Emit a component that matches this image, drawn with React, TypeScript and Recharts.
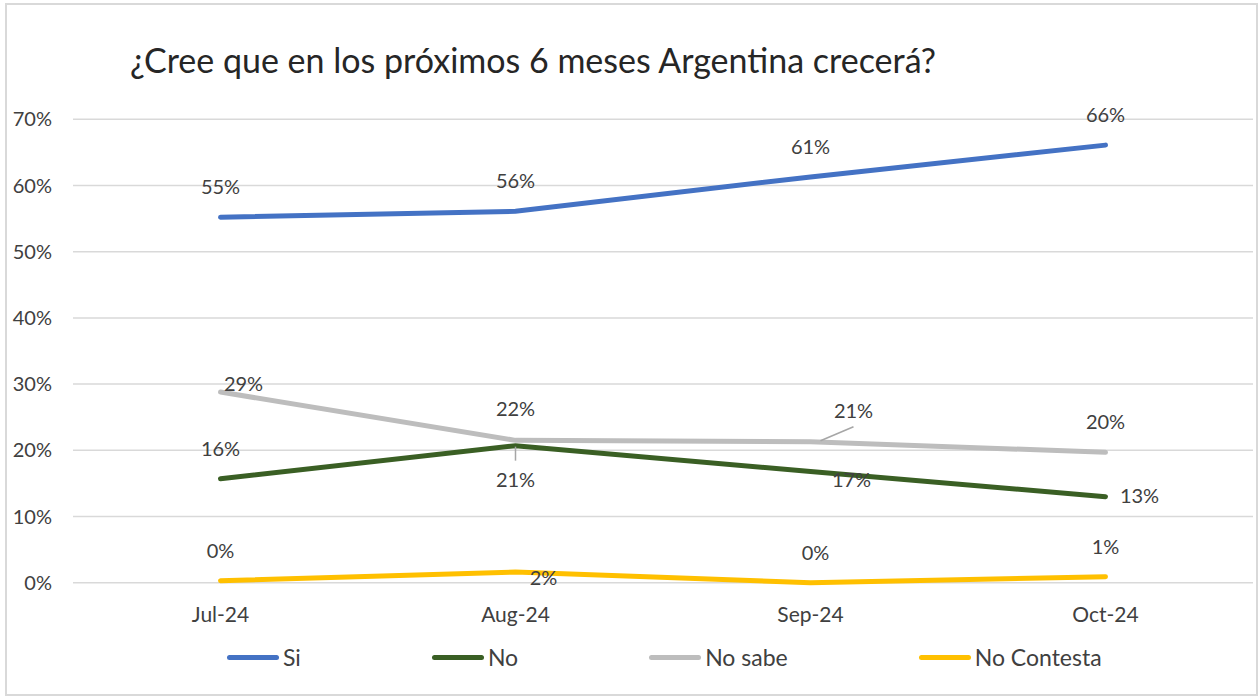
import React from 'react';
import { LineChart, Line, XAxis, YAxis, CartesianGrid, Legend, LabelList } from 'recharts';

// ---- data ----
const months = ['Jul-24', 'Aug-24', 'Sep-24', 'Oct-24'];
const si = [55.2, 56.1, 61.3, 66.1];
const no = [15.7, 20.7, 16.8, 13.0];
const noSabe = [28.8, 21.5, 21.3, 19.7];
const noContesta = [0.3, 1.6, 0.0, 0.9];
const yTicks = [0, 10, 20, 30, 40, 50, 60, 70];

const data = months.map((m, i) => ({
  month: m,
  si: si[i],
  no: no[i],
  noSabe: noSabe[i],
  noContesta: noContesta[i],
}));

// ---- styling / label placement (offsets from each point, px) ----
const FONT = 'Lato, "Open Sans", sans-serif';
const TEXT = '#404040';
const offsets: Record<string, [number, number][]> = {
  si: [[0, -31], [0, -31], [0, -31], [0, -31]],
  no: [[0, -31], [0, 33], [41, 8], [34, -2]],
  noSabe: [[23, -9], [0, -32], [43, -32], [0, -31]],
  noContesta: [[0, -31], [28, 5], [5, -31], [0, -31]],
};
const leaders: Record<string, (null | [number, number, number, number])[]> = {
  si: [null, null, null, null],
  no: [null, [0, 1, 0, 15], null, null],
  noSabe: [null, null, [10, -1, 43, -15], null],
  noContesta: [null, null, null, null],
};

const series = [
  { key: 'si', name: 'Si', color: '#4472C4' },
  { key: 'no', name: 'No', color: '#3A5F24' },
  { key: 'noSabe', name: 'No sabe', color: '#BDBDBD' },
  { key: 'noContesta', name: 'No Contesta', color: '#FFC000' },
];

const makeLabel = (key: string) => (props: any) => {
  const { x, y, value, index } = props;
  const [dx, dy] = offsets[key][index];
  const ld = leaders[key][index];
  return (
    <g key={`${key}-${index}`}>
      {ld && (
        <line x1={x + ld[0]} y1={y + ld[1]} x2={x + ld[2]} y2={y + ld[3]} stroke="#A6A6A6" strokeWidth={1.5} />
      )}
      <text
        x={x + dx}
        y={y + dy}
        textAnchor="middle"
        dominantBaseline="central"
        fontFamily={FONT}
        fontSize={20}
        fill={TEXT}
      >
        {`${Math.round(value)}%`}
      </text>
    </g>
  );
};

const LegendContent = () => (
  <div style={{ display: 'flex', alignItems: 'center', paddingLeft: 227, gap: 131, fontFamily: FONT, fontSize: 23, color: TEXT }}>
    {series.map((s) => (
      <div key={s.key} style={{ display: 'flex', alignItems: 'center' }}>
        <div style={{ width: 52, height: 5, borderRadius: 3, background: s.color, marginRight: 4 }} />
        <span>{s.name}</span>
      </div>
    ))}
  </div>
);

export default function App() {
  return (
    <div style={{ position: 'absolute', left: 0, top: 0, width: 1259, height: 696, background: '#fff', fontFamily: FONT }}>
      <div
        style={{
          position: 'absolute', left: 5, top: 3, width: 1253, height: 693,
          border: '2px solid #D9D9D9', boxSizing: 'border-box',
        }}
      />
      <div
        style={{
          position: 'absolute', left: 130, top: 43, fontSize: 34, lineHeight: '34px',
          color: '#262626', whiteSpace: 'nowrap',
        }}
      >
        ¿Cree que en los próximos 6 meses Argentina crecerá?
      </div>
      <div style={{ position: 'absolute', left: 0, top: 0 }}>
        <LineChart width={1259} height={696} data={data} margin={{ top: 119.3, right: 6, bottom: 73.3, left: 13 }}>
          <CartesianGrid vertical={false} stroke="#D9D9D9" strokeWidth={1.5} />
          <XAxis
            dataKey="month"
            axisLine={false}
            tickLine={false}
            tickSize={0}
            tickMargin={24}
            height={40}
            padding={{ left: 147.5, right: 147.5 }}
            tick={{ fontFamily: FONT, fontSize: 21, fill: TEXT }}
          />
          <YAxis
            domain={[0, 70]}
            ticks={yTicks}
            axisLine={false}
            tickLine={false}
            tickSize={0}
            tickMargin={21}
            width={60}
            tickFormatter={(v: number) => `${v}%`}
            tick={{ fontFamily: FONT, fontSize: 20, fill: TEXT }}
          />
          {series.map((s) => (
            <Line
              key={s.key}
              type="linear"
              dataKey={s.key}
              name={s.name}
              stroke={s.color}
              strokeWidth={5}
              strokeLinecap="round"
              dot={false}
              activeDot={false}
              isAnimationActive={false}
            >
              <LabelList dataKey={s.key} content={makeLabel(s.key)} />
            </Line>
          ))}
          <Legend
            layout="horizontal"
            verticalAlign="middle"
            align="center"
            wrapperStyle={{ top: 643, left: 0, width: 1259 }}
            content={LegendContent}
          />
        </LineChart>
      </div>
    </div>
  );
}
